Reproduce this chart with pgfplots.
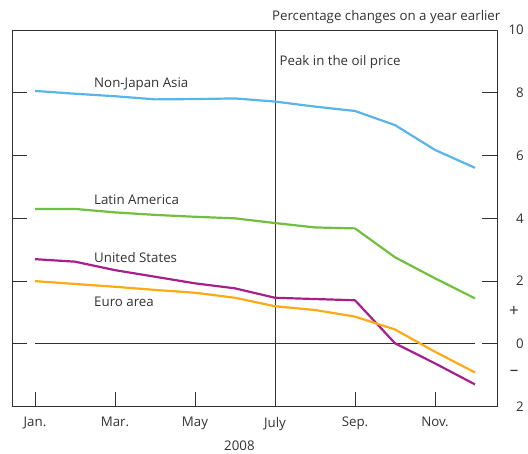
\documentclass[border=0pt]{standalone}
\usepackage{pgfplots}
\pgfplotsset{compat=1.18}
\usepackage{fontspec}
\setmainfont{Open Sans}
\definecolor{asia}{RGB}{88,181,232}
\definecolor{latam}{RGB}{114,190,62}
\definecolor{usa}{RGB}{168,30,140}
\definecolor{euro}{RGB}{255,170,20}
\definecolor{axgray}{RGB}{50,50,50}
\newcommand{\fs}{\fontsize{13.3bp}{15bp}\selectfont}
\newcommand{\fsb}{\fontsize{17bp}{19bp}\selectfont}
\begin{document}
\fs
\begin{tikzpicture}
\begin{axis}[name=ax, scale only axis, width=485bp, height=376.7bp,
  xmin=0.425, xmax=12.55, ymin=-2, ymax=10,
  clip=false,
  font=\fs,
  axis line style={draw=axgray, line width=0.9bp},
  tick style={draw=axgray, line width=0.9bp},
  tick align=inside, major tick length=15bp,
  xtick={1,3,5,7,9,11},
  xticklabels={{\fs Jan.},{\fs Mar.},{\fs May},{\fs July},{\fs Sep.},{\fs Nov.}},
  xtick pos=lower,
  xticklabel style={anchor=north, inner sep=0pt, yshift=-10bp, text=axgray},
  ytick={-2,0,2,4,6,8,10},
  yticklabels={{\fs 2},{\fs 0},{\fs 2},{\fs 4},{\fs 6},{\fs 8},{\fs 10}},
  yticklabel pos=upper, ytick pos=both,
  yticklabel style={anchor=east, inner sep=0pt, xshift=27bp, text=axgray},
  every axis plot/.append style={line width=2.2bp, line join=round},
]
\addplot[axgray, line width=0.9bp] coordinates {(1,0) (12,0)};
\addplot[axgray, line width=0.9bp] coordinates {(7,-2) (7,10)};
% Non-Japan Asia
\addplot[asia] coordinates {(1,8.06) (2,7.97) (3,7.89) (4,7.79) (5,7.80) (6,7.82) (7,7.72) (8,7.56) (9,7.42) (10,6.97) (11,6.18) (12,5.61)};
% Latin America
\addplot[latam] coordinates {(1,4.30) (2,4.30) (3,4.19) (4,4.11) (5,4.05) (6,4.00) (7,3.85) (8,3.71) (9,3.68) (10,2.76) (11,2.09) (12,1.45)};
% United States
\addplot[usa] coordinates {(1,2.70) (2,2.62) (3,2.35) (4,2.14) (5,1.93) (6,1.77) (7,1.47) (8,1.43) (9,1.39) (10,0.02) (11,-0.62) (12,-1.29)};
% Euro area
\addplot[euro] coordinates {(1,2.00) (2,1.91) (3,1.82) (4,1.72) (5,1.63) (6,1.47) (7,1.20) (8,1.08) (9,0.87) (10,0.46) (11,-0.25) (12,-0.91)};
\node[anchor=base west, inner sep=0pt, text=axgray] at (axis cs:2.475,8.17) {\fs Non-Japan Asia};
\node[anchor=base west, inner sep=0pt, text=axgray] at (axis cs:7.11,8.86) {\fs Peak in the oil price};
\node[anchor=base west, inner sep=0pt, text=axgray] at (axis cs:2.475,4.43) {\fs Latin America};
\node[anchor=base west, inner sep=0pt, text=axgray] at (axis cs:2.475,2.59) {\fs United States};
\node[anchor=base west, inner sep=0pt, text=axgray] at (axis cs:2.475,1.185) {\fs Euro area};
\node[anchor=base east, inner sep=0pt, text=axgray] at (axis cs:12.64,10.30) {\fs Percentage changes on a year earlier};
\node[anchor=center, inner sep=0pt, text=axgray] at ([xshift=17bp]axis cs:12.55,1.02) {\fsb +};
\node[anchor=center, inner sep=0pt, text=axgray] at ([xshift=17bp]axis cs:12.55,-0.93) {\fsb \textendash};
\node[anchor=base, inner sep=0pt, text=axgray] at ([yshift=-44bp]axis cs:6.11,-2) {\fs 2008};
\end{axis}
\pgfresetboundingbox
\path[use as bounding box] ([shift={(-12bp,-47.3bp)}]ax.south west) rectangle ([shift={(31bp,30bp)}]ax.north east);
\end{tikzpicture}
\end{document}
